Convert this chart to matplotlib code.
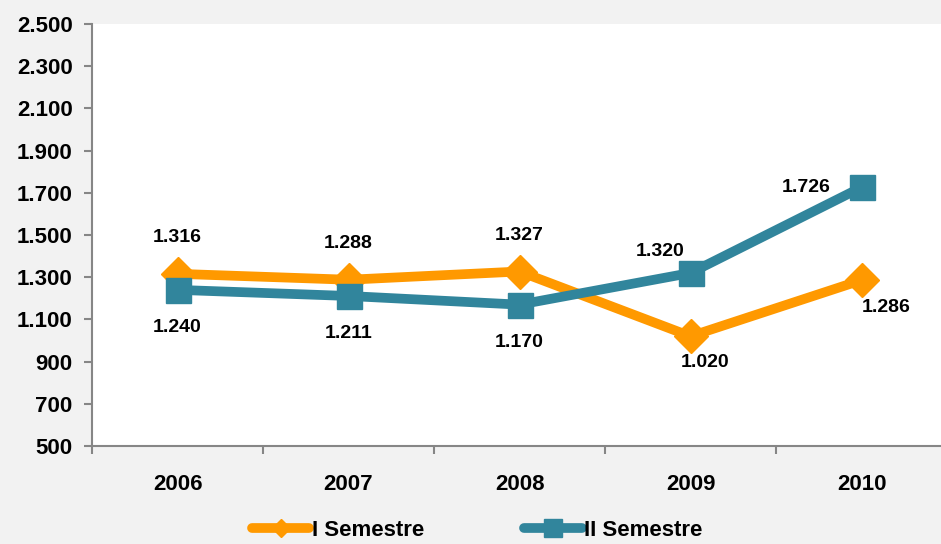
import matplotlib.pyplot as plt
from matplotlib.lines import Line2D

# --- datos ---
anios = ["2006", "2007", "2008", "2009", "2010"]
sem1 = [1316, 1288, 1327, 1020, 1286]
sem2 = [1240, 1211, 1170, 1320, 1726]
y_ticks = [500, 700, 900, 1100, 1300, 1500, 1700, 1900, 2100, 2300, 2500]

# desplazamiento de etiquetas (px)
off1 = [(0, 36), (0, 36), (0, 36), (15, -26), (25, -27)]
off2 = [(0, -38), (0, -38), (0, -38), (-30, 21), (-55, 0)]

plt.rcParams["font.family"] = ["Liberation Sans", "DejaVu Sans"]
plt.rcParams["font.weight"] = "bold"

NARANJA = "#FF9900"
AZUL = "#31859C"
GRIS = "#868686"


def fmt(v):
    return f"{v:,}".replace(",", ".")


fig = plt.figure(figsize=(9.41, 5.44), dpi=100, facecolor="#F2F2F2")
ax = fig.add_axes([92 / 941, 1 - 446 / 544, 855 / 941, 422 / 544])
ax.set_facecolor("white")

x = list(range(len(anios)))
ax.plot(x, sem1, color=NARANJA, lw=7, marker="D", ms=17, mec=NARANJA, zorder=3)
ax.plot(x, sem2, color=AZUL, lw=7, marker="s", ms=18, mec=AZUL, zorder=4)

for i in x:
    ax.annotate(fmt(sem1[i]), (i, sem1[i]), xytext=off1[i], textcoords="offset pixels",
                ha="center", va="center", fontsize=14, fontweight="bold")
    ax.annotate(fmt(sem2[i]), (i, sem2[i]), xytext=off2[i], textcoords="offset pixels",
                ha="center", va="center", fontsize=14, fontweight="bold")

ax.set_xlim(-0.5, 4.5)
ax.set_ylim(500, 2500)
ax.set_yticks(y_ticks)
ax.set_yticklabels([fmt(v) for v in y_ticks], fontsize=16, fontweight="bold")
ax.set_xticks(x)
ax.set_xticklabels(anios, fontsize=16, fontweight="bold")
ax.set_xticks([i - 0.5 for i in range(len(anios) + 1)], minor=True)
ax.tick_params(axis="x", which="major", length=0, pad=20)
ax.tick_params(axis="x", which="minor", length=6, width=1.5, color=GRIS)
ax.tick_params(axis="y", length=6, width=1.5, color=GRIS, pad=8)

for s in ["top", "right"]:
    ax.spines[s].set_visible(False)
for s in ["left", "bottom"]:
    ax.spines[s].set_color(GRIS)
    ax.spines[s].set_linewidth(1.5)

h1 = Line2D([], [], color=NARANJA, lw=7, marker="D", ms=9, solid_capstyle="round")
h2 = Line2D([], [], color=AZUL, lw=7, marker="s", ms=13, solid_capstyle="round")
fig.legend([h1, h2], ["I Semestre", "II Semestre"], loc="center", ncol=2,
           bbox_to_anchor=(477 / 941, 1 - 530 / 544), frameon=False,
           handlelength=2.6, handletextpad=0.1, columnspacing=4.5,
           prop={"weight": "bold", "size": 16})

fig.savefig("out.png", dpi=100, facecolor=fig.get_facecolor())
